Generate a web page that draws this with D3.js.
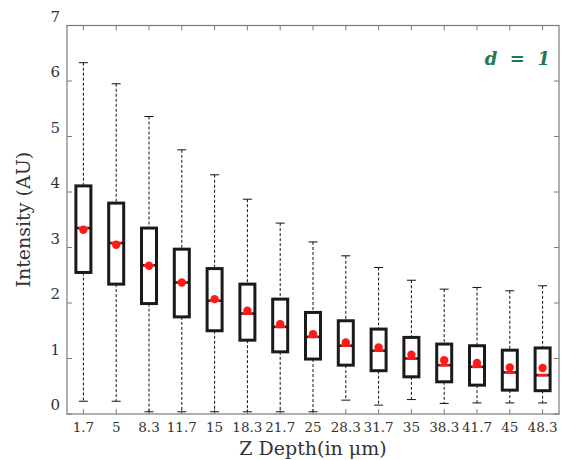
<!DOCTYPE html>
<html><head><meta charset="utf-8">
<script src="https://cdn.jsdelivr.net/npm/d3@7"></script>
<style>body{margin:0;background:#fff}svg{display:block}text{font-family:"DejaVu Serif",serif}</style>
</head><body>
<svg id="c" width="570" height="460"></svg>
<script>
const categories = ["1.7","5","8.3","11.7","15","18.3","21.7","25","28.3","31.7","35","38.3","41.7","45","48.3"];
const whiskerHigh = [6.33,5.95,5.36,4.76,4.31,3.87,3.44,3.10,2.85,2.64,2.41,2.25,2.28,2.22,2.31];
const q3 = [4.11,3.80,3.35,2.97,2.62,2.34,2.07,1.83,1.68,1.53,1.38,1.26,1.23,1.15,1.19];
const medians = [3.35,3.08,2.68,2.37,2.04,1.81,1.57,1.39,1.23,1.14,1.00,0.88,0.85,0.75,0.70];
const q1 = [2.55,2.34,1.99,1.75,1.50,1.33,1.12,0.99,0.88,0.78,0.67,0.58,0.52,0.43,0.42];
const whiskerLow = [0.23,0.23,0.04,0.04,0.04,0.04,0.04,0.04,0.25,0.16,0.26,0.19,0.20,0.20,0.20];
const means = [3.32,3.05,2.67,2.37,2.07,1.86,1.62,1.44,1.29,1.20,1.07,0.97,0.92,0.84,0.83];
const yTicks = [0,1,2,3,4,5,6,7];

const svg = d3.select("#c");
const L=67,R=559,T=25.5,B=414;
const x = d3.scaleBand().domain(categories).range([L,R]).padding(0);
const y = d3.scaleLinear().domain([0,7]).range([B,T]);
const cx = c => x(c)+x.bandwidth()/2;
const axisCol = "#7a7a7a";

// frame
svg.append("rect").attr("x",L).attr("y",T).attr("width",R-L).attr("height",B-T)
  .attr("fill","none").attr("stroke",axisCol).attr("stroke-width",1.2);

// ticks inside
const g = svg.append("g");
yTicks.forEach(v=>{
  g.append("line").attr("x1",L).attr("x2",L+5).attr("y1",y(v)).attr("y2",y(v)).attr("stroke",axisCol);
  g.append("line").attr("x1",R).attr("x2",R-5).attr("y1",y(v)).attr("y2",y(v)).attr("stroke",axisCol);
  g.append("text").attr("x",60).attr("y",y(v)-9).attr("dy","0.35em").attr("text-anchor","end")
    .attr("font-size",15).attr("fill","#333").text(v);
});
categories.forEach(c=>{
  g.append("line").attr("x1",cx(c)).attr("x2",cx(c)).attr("y1",B).attr("y2",B-5).attr("stroke",axisCol);
  g.append("line").attr("x1",cx(c)).attr("x2",cx(c)).attr("y1",T).attr("y2",T+5).attr("stroke",axisCol);
  g.append("text").attr("x",cx(c)).attr("y",432).attr("text-anchor","middle")
    .attr("font-size",13.5).attr("fill","#333").text(c);
});

// boxes
const bw = 15, cap = 9;
const bx = svg.append("g");
categories.forEach((c,i)=>{
  const X = cx(c);
  bx.append("line").attr("x1",X).attr("x2",X).attr("y1",y(whiskerHigh[i])).attr("y2",y(q3[i]))
    .attr("stroke","#111").attr("stroke-width",1).attr("stroke-dasharray","3,2");
  bx.append("line").attr("x1",X).attr("x2",X).attr("y1",y(q1[i])).attr("y2",y(whiskerLow[i]))
    .attr("stroke","#111").attr("stroke-width",1).attr("stroke-dasharray","3,2");
  [whiskerHigh[i],whiskerLow[i]].forEach(v=>{
    bx.append("line").attr("x1",X-cap/2).attr("x2",X+cap/2).attr("y1",y(v)).attr("y2",y(v))
      .attr("stroke","#111").attr("stroke-width",1);
  });
  bx.append("rect").attr("x",X-bw/2).attr("y",y(q3[i])).attr("width",bw).attr("height",y(q1[i])-y(q3[i]))
    .attr("fill","none").attr("stroke","#1a1a1a").attr("stroke-width",3);
  bx.append("line").attr("x1",X-bw/2).attr("x2",X+bw/2).attr("y1",y(medians[i])).attr("y2",y(medians[i]))
    .attr("stroke","#1a1a1a").attr("stroke-width",2.5);
  bx.append("line").attr("x1",X-5).attr("x2",X+5).attr("y1",y(medians[i])).attr("y2",y(medians[i]))
    .attr("stroke","#ff1a1a").attr("stroke-width",2.5);
  bx.append("circle").attr("cx",X).attr("cy",y(means[i])).attr("r",4.2).attr("fill","#ff1a1a");
});

// labels
svg.append("text").attr("x",(L+R)/2).attr("y",455).attr("text-anchor","middle")
  .attr("font-size",19).attr("fill","#333").text("Z Depth(in μm)");
svg.append("text").attr("transform",`translate(30,${(T+B)/2}) rotate(-90)`).attr("text-anchor","middle")
  .attr("font-size",19).attr("fill","#333").text("Intensity (AU)");
svg.append("text").attr("x",550).attr("y",65).attr("text-anchor","end")
  .attr("font-size",18).attr("font-weight","bold").attr("font-style","italic")
  .attr("fill","#1f7a50").attr("xml:space","preserve").text("d  =  1");
</script>
</body></html>
